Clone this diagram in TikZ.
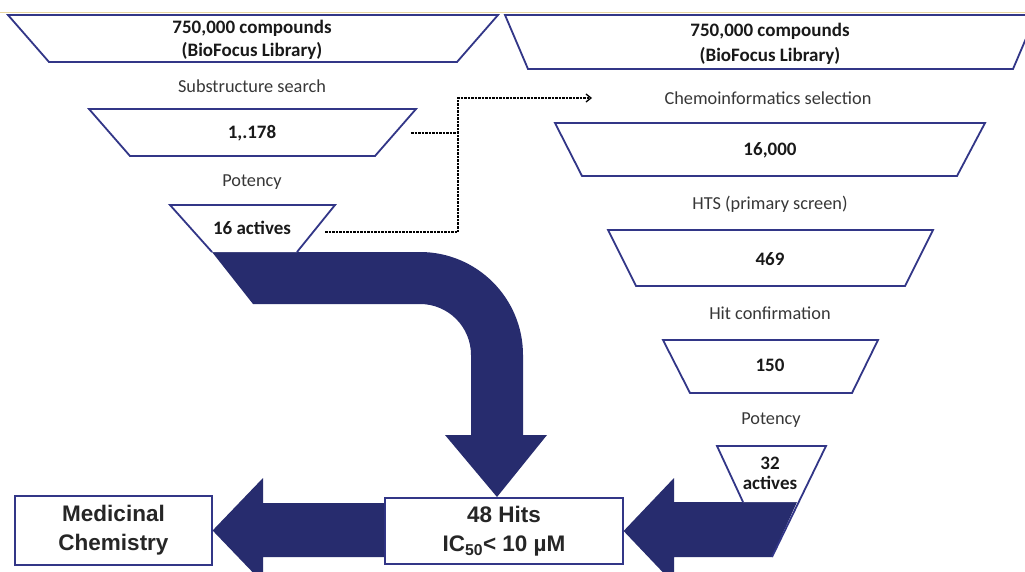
\documentclass[tikz,border=0pt]{standalone}
\usepackage{fontspec}
\setmainfont{Carlito}
\newfontfamily\arialf{Liberation Sans}
\usetikzlibrary{arrows.meta}
\definecolor{navy}{RGB}{39,44,110}
\definecolor{edgec}{RGB}{50,54,135}
\definecolor{lbltext}{RGB}{55,55,55}
\definecolor{tanline}{RGB}{232,214,160}
\begin{document}
\begin{tikzpicture}[x=1pt,y=-1pt,
  funnel/.style={draw=edgec,line width=1.8pt,fill=white,line join=miter},
  funnelline/.style={draw=edgec,line width=1.8pt,line join=miter},
  navyfill/.style={fill=navy},
  lbl/.style={font=\fontsize{18.3}{21}\selectfont,text=lbltext,inner sep=0pt},
  num/.style={font=\bfseries\fontsize{19}{20}\selectfont,text=black!90,inner sep=0pt,align=center},
  bigbox/.style={draw=edgec,line width=1.2pt,fill=white,inner sep=0pt},
  big/.style={font=\arialf\bfseries\fontsize{22.5}{29}\selectfont,align=center,text=black!85},
  link/.style={dash pattern=on 2.5pt off 1pt,line width=1.3pt,black}]
\useasboundingbox (0,0) rectangle (1025,572);
\clip (0,0) rectangle (1025,572);
\fill[white] (0,0) rectangle (1025,572);
\draw[tanline,line width=1pt] (0,12.5) -- (1025,12.5);

% boxes
\node[bigbox,big,minimum width=197pt,minimum height=69pt] (med) at (113.5,530.5) {Medicinal\\Chemistry};

% curved block arrow
\fill[navyfill] (212,252) -- (420,252) .. controls (476.9,252) and (523,298.1) .. (523,355)
  -- (523,435) -- (547,435) -- (497,497) -- (445,435) -- (471,435) -- (471,355)
  .. controls (471,326.8) and (448.2,304) .. (420,304) -- (253,304) -- cycle;

\node[bigbox,big,minimum width=238pt,minimum height=66pt] (hits) at (504,531) {48 Hits\\IC\textsubscript{50}< 10 µM};

\fill[navyfill] ([yshift=28pt]hits.west) -- (263,503) -- (263,478) -- (med.east) -- (263,583) -- (263,557) -- ([yshift=-26pt]hits.west) -- cycle;
\fill[navyfill] (797,502) -- (674,502) -- (674,478) -- (hits.east) -- (674,584) -- (674,557) -- (772,557) -- cycle;

% left funnels
\draw[funnel] (8,15) -- (498,15) -- (457,62) -- (49,62) -- cycle;
\node[num,font=\bfseries\fontsize{19}{23}\selectfont] (lib1) at (252,40) {750,000 compounds\\(BioFocus Library)};
\node[lbl] (sub) at (252,86) {Substructure search};
\draw[funnel] (89,109) -- (416,109) -- (375,156) -- (130,156) -- cycle;
\node[num] (n1178) at (252,133) {1,.178};
\node[lbl] (pot1) at (252,182) {Potency};
\fill[white] (170,205) -- (335,205) -- (297,252) -- (212,252) -- cycle;
\draw[funnelline] (212,252) -- (170,205) -- (335,205) -- (297,252);
\node[num] (act16) at (252,228) {16 actives};

% right funnels
\draw[funnel] (505,15) -- (1036,15) -- (1013,69) -- (528,69) -- cycle;
\node[num,font=\bfseries\fontsize{19}{25}\selectfont] (lib2) at (770,44) {750,000 compounds\\(BioFocus Library)};
\node[lbl] (chem) at (768,98) {Chemoinformatics selection};
\draw[funnel] (555,123) -- (985,123) -- (957,176) -- (582,176) -- cycle;
\node[num] (n16000) at (770,150) {16,000};
\node[lbl] (hts) at (770,204) {HTS (primary screen)};
\draw[funnel] (608,230) -- (933,230) -- (905,286) -- (636,286) -- cycle;
\node[num] (n469) at (770,259) {469};
\node[lbl] (hitc) at (770,313) {Hit confirmation};
\draw[funnel] (663,340) -- (878,340) -- (852,393) -- (690,393) -- cycle;
\node[num] (n150) at (770,365) {150};
\node[lbl] (pot2) at (771,420) {Potency};
\fill[white] (717,446) -- (826,446) -- (797,502) -- (743,502) -- cycle;
\draw[funnelline] (743,502) -- (717,446) -- (826,446) -- (772,557);
\node[num,font=\bfseries\fontsize{19}{20}\selectfont] (act32) at (770,473) {32\\actives};

% dashed links
\coordinate (s1) at (411,133);
\coordinate (s2) at (325,232);
\coordinate (j1) at (458,133);
\coordinate (j2) at (458,232);
\coordinate (j3) at (458,98);
\coordinate (aend) at (592,98);
\draw[link] (s1) -- (j1);
\draw[link,-{Straight Barb[length=5pt,width=8pt]}] (s2) -- (j2) -- (j3) -- (aend);
\end{tikzpicture}
\end{document}
